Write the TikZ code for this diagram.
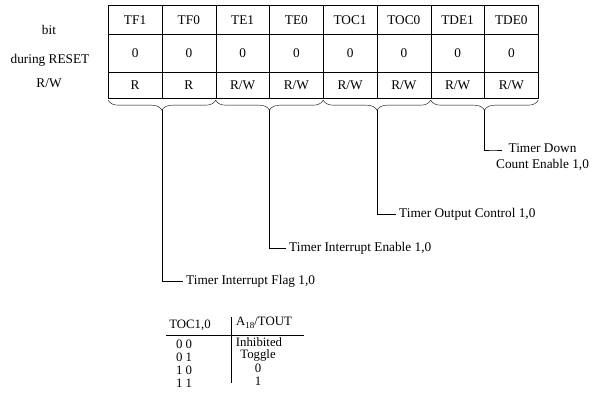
\documentclass[tikz,border=0pt]{standalone}
\usepackage{fontspec}
\setmainfont{Liberation Serif}
\usetikzlibrary{matrix,calc,decorations.pathreplacing}

\tikzset{
	regbrace/.style={decorate, decoration={brace, mirror, amplitude=10pt}},
	fieldlbl/.style={anchor=west, inner sep=3pt, align=center},
	tocrow/.style={inner sep=0pt, font=\fontsize{12.8}{14}\selectfont},
}

\begin{document}
\begin{tikzpicture}[x=1pt, y=1pt, every node/.style={font=\fontsize{13.3}{16}\selectfont}]
	\useasboundingbox (0,0) rectangle (613,-401);
	% register
	\matrix (reg) [matrix of nodes, anchor=north west, inner sep=0pt, outer sep=0pt,
		nodes={draw, minimum width=53.75pt, inner sep=0pt, outer sep=0pt, anchor=center},
		column sep=-0.4pt, row sep=-0.4pt,
		row 1/.style={nodes={minimum height=29pt}},
		row 2/.style={nodes={minimum height=38pt}},
		row 3/.style={nodes={minimum height=26pt}}] at (108,-5) {
		TF1 & TF0 & TE1 & TE0 & TOC1 & TOC0 & TDE1 & TDE0 \\
		0 & 0 & 0 & 0 & 0 & 0 & 0 & 0 \\
		R & R & R/W & R/W & R/W & R/W & R/W & R/W \\
	};
	\node (bitLbl) at (49,-30) {bit};
	\node (rstLbl) at (50,-60) {during RESET};
	\node (rwLbl) at (49,-83) {R/W};
	% braces
	\draw[regbrace] ($(reg-3-1.south west)+(0,-2)$) -- ($(reg-3-2.south east)+(0,-2)$);
	\draw[regbrace] ($(reg-3-3.south west)+(0,-2)$) -- ($(reg-3-4.south east)+(0,-2)$);
	\draw[regbrace] ($(reg-3-5.south west)+(0,-2)$) -- ($(reg-3-6.south east)+(0,-2)$);
	\draw[regbrace] ($(reg-3-7.south west)+(0,-2)$) -- ($(reg-3-8.south east)+(0,-2)$);
	\coordinate (tfTip) at ($(reg-3-1.south east)+(0,-12)$);
	\coordinate (teTip) at ($(reg-3-3.south east)+(0,-12)$);
	\coordinate (tocTip) at ($(reg-3-5.south east)+(0,-12)$);
	\coordinate (tdeTip) at ($(reg-3-7.south east)+(0,-12)$);
	% field names
	\node[fieldlbl] (tdeLbl) at (493,-157) {Timer Down\\Count Enable 1,0};
	\node[fieldlbl] (tocLbl) at (396,-214) {Timer Output Control 1,0};
	\node[fieldlbl] (teLbl) at (286,-248) {Timer Interrupt Enable 1,0};
	\node[fieldlbl] (tfLbl) at (183,-281) {Timer Interrupt Flag 1,0};
	\draw (tfTip) |- (tfLbl.west);
	\draw (teTip) |- (teLbl.west);
	\draw (tocTip) |- (tocLbl.west);
	\draw (tdeTip) |- ($(tdeLbl.west)+(0,7)$) -- ++(9,0);
	% TOC1,0 table
	\node[tocrow] (tocHd) at (190,-325) {TOC1,0};
	\node[tocrow] (outHd) at (264,-323) {A\raisebox{-2.5pt}{\fontsize{9}{10}\selectfont 18}/TOUT};
	\node[tocrow] (r00) at (184,-344) {0 0};
	\node[tocrow] (r01) at (184,-357) {0 1};
	\node[tocrow] (r10) at (184,-370) {1 0};
	\node[tocrow] (r11) at (184,-383) {1 1};
	\node[tocrow] (v00) at (259,-342) {Inhibited};
	\node[tocrow] (v01) at (258,-355) {Toggle};
	\node[tocrow] (v10) at (258,-368) {0};
	\node[tocrow] (v11) at (258,-381) {1};
	\draw (166,-335) -- (304,-335);
	\draw (231,-317) -- (231,-383);
\end{tikzpicture}
\end{document}
